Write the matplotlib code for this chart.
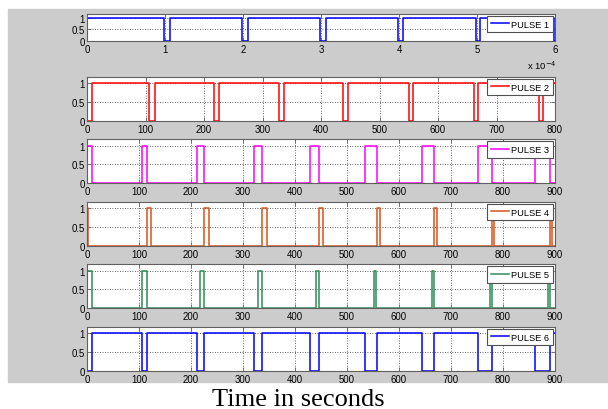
import numpy as np
import matplotlib.pyplot as plt
from matplotlib.patches import Rectangle
from matplotlib.ticker import FuncFormatter, MultipleLocator

plt.rcParams['font.family'] = ['Liberation Sans', 'DejaVu Sans']

# switching instants and levels of each pulse train (step, held until next instant)
t1 = [0, 0.99e-4, 1.06e-4, 1.99e-4, 2.06e-4, 2.99e-4, 3.06e-4, 3.99e-4, 4.05e-4,
      4.99e-4, 5.04e-4, 5.99e-4, 6.0e-4]
y1 = [1, 0, 1, 0, 1, 0, 1, 0, 1, 0, 1, 0, 0]

t2 = [0, 0, 9, 106.5, 116, 217.6, 226, 328, 337, 438, 447, 551, 558, 661.5, 669, 773, 780, 800]
y2 = [1, 0, 1, 0, 1, 0, 1, 0, 1, 0, 1, 0, 1, 0, 1, 0, 1, 1]

t3 = [0, 0, 10, 106, 116, 211, 225.6, 320.5, 336, 428, 447, 534, 557, 645, 668, 752.5, 778,
      861.5, 890, 900]
y3 = [0, 1, 0, 1, 0, 1, 0, 1, 0, 1, 0, 1, 0, 1, 0, 1, 0, 1, 0, 0]

t4 = [0, 0, 1, 116, 124, 225.6, 234.6, 337, 345.6, 447, 454.5, 558, 564, 668, 673.6, 779, 783,
      890, 893.5, 900]
y4 = [0, 1, 0, 1, 0, 1, 0, 1, 0, 1, 0, 1, 0, 1, 0, 1, 0, 1, 0, 0]

t5 = [0, 0, 10, 106, 116, 218, 225.6, 328, 336, 439.6, 446, 551.5, 556, 663, 668, 775, 778,
      887, 890, 900]
y5 = [0, 1, 0, 1, 0, 1, 0, 1, 0, 1, 0, 1, 0, 1, 0, 1, 0, 1, 0, 0]

t6 = [0, 0, 10, 106, 116, 211, 225.6, 320.5, 337, 428, 447, 534, 557, 645, 668, 752.5, 779,
      861.5, 890, 900]
y6 = [1, 0, 1, 0, 1, 0, 1, 0, 1, 0, 1, 0, 1, 0, 1, 0, 1, 0, 1, 1]

labels = ['PULSE 1', 'PULSE 2', 'PULSE 3', 'PULSE 4', 'PULSE 5', 'PULSE 6']
colors = ['#0000ff', '#ff0000', '#ff00ff', '#d9541a', '#2e8b57', '#0000ff']
xmax = [6e-4, 800, 900, 900, 900, 900]
xstep = [1e-4, 100, 100, 100, 100, 100]

W, H = 608, 410
fig = plt.figure(figsize=(W / 100, H / 100), dpi=100)
# grey panel behind the axes
fig.add_artist(Rectangle((8 / W, 1 - 383 / H), 1 - 8 / W, 373 / H,
                         transform=fig.transFigure, color='#cccccc', zorder=-10))

# axes rows in pixels: (top, bottom)
rows = [(14.7, 41.7), (77.5, 121.7), (140, 184), (202.7, 247), (265, 309), (327.5, 372)]
left, right = 87, 555

series = [(t1, y1), (t2, y2), (t3, y3), (t4, y4), (t5, y5), (t6, y6)]
for i, ((top, bot), (t, y)) in enumerate(zip(rows, series)):
    ax = fig.add_axes([left / W, 1 - bot / H, (right - left) / W, (bot - top) / H])
    ax.step(t, y, where='post', color=colors[i], lw=1.1, label=labels[i])
    ax.set_xlim(0, xmax[i])
    ax.set_ylim(0, 1.18)
    ax.xaxis.set_major_locator(MultipleLocator(xstep[i]))
    ax.set_yticks([0, 0.5, 1])
    ax.set_yticklabels(['0', '0.5', '1'])
    if i == 0:
        ax.xaxis.set_major_formatter(FuncFormatter(lambda v, p: '%g' % round(v / 1e-4, 6)))
        ax.text(1.004, -1.05, 'x 10$^{-4}$', transform=ax.transAxes, ha='right',
                va='baseline', fontsize=6.8)
    ax.grid(True, color='#333333', linestyle=(0, (1, 2)), linewidth=0.6)
    ax.tick_params(direction='in', top=True, right=True, length=3, width=0.6,
                   color='#606060', labelsize=6.9, pad=1.5)
    ax.tick_params(axis='x', pad=2.5)
    for s in ax.spines.values():
        s.set_color('#606060')
        s.set_linewidth(0.8)
    leg = ax.legend(loc='upper right', fontsize=6.7, handlelength=1.9, handletextpad=0.25,
                    borderpad=0.4, borderaxespad=0.25, fancybox=False, framealpha=1,
                    edgecolor='#505050')
    leg.get_frame().set_linewidth(0.8)

fig.text(298 / W, 1 - 406 / H, 'Time in seconds', family='Liberation Serif', fontsize=19,
         ha='center', va='baseline')

fig.savefig('out.png', dpi=100)
